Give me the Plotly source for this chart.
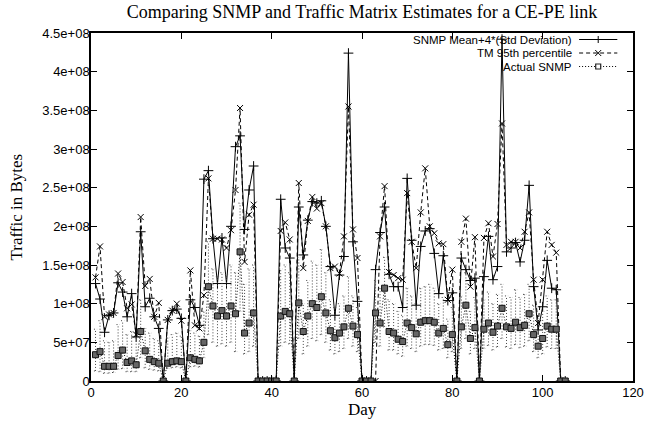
import plotly.graph_objects as go
import numpy as np

title = 'Comparing SNMP and Traffic Matrix Estimates for a CE-PE link'
names = ['SNMP Mean+4*(Std Deviation)', 'TM 95th percentile', 'Actual SNMP']

days = list(range(1, 106))

# values in units of 1e8 bytes
snmp_mean4std = [
    1.26, 1.06, 0.63, 0.85, 0.88, 1.27, 1.15, 0.83, 1.13, 0.57,
    1.93, 0.96, 1.07, 0.83, 0.68, 0, 0.79, 0.91, 0.93, 0.81,
    0, 1.05, 0.95, 0.72, 2.61, 2.72, 1.84, 1.26, 1.85, 1.26,
    2.00, 3.03, 3.17, 1.96, 2.47, 2.78, 0, 0, 0, 0,
    0, 2.35, 1.72, 1.59, 0, 2.25, 1.63, 2.08, 2.32, 2.30,
    2.33, 2.00, 1.48, 0.85, 1.37, 1.61, 4.24, 1.80, 1.03, 0,
    0, 0, 1.44, 1.92, 2.25, 1.38, 1.22, 1.22, 0.95, 2.62,
    1.82, 0.98, 1.74, 1.94, 1.97, 1.65, 1.13, 1.62, 1.04, 1.14,
    0, 1.59, 1.44, 1.30, 1.33, 0, 1.35, 1.87, 1.31, 1.48,
    4.42, 1.67, 1.72, 1.79, 1.54, 1.82, 2.53, 1.22, 0.66, 0.96,
    1.56, 1.20, 1.18, 0, 0]

tm_95th = [
    1.34, 1.74, 0.83, 0.86, 0.88, 1.39, 1.28, 0.94, 0.99, 0.60,
    2.12, 1.23, 1.32, 0.83, 1.01, 0, 0.79, 0.91, 1.00, 0.78,
    0, 1.43, 0.72, 0.68, 1.11, 2.62, 1.84, 1.84, 1.83, 1.72,
    1.95, 2.47, 3.53, 1.54, 2.15, 2.28, 0, 0, 0, 0,
    0, 1.94, 2.05, 1.83, 0, 2.56, 1.46, 2.07, 2.38, 2.23,
    2.30, 2.00, 1.46, 1.48, 1.39, 1.87, 3.55, 1.96, 1.59, 0,
    0, 0, 0, 1.87, 2.52, 1.41, 1.37, 1.33, 1.31, 2.43,
    1.80, 1.46, 2.18, 2.75, 2.00, 1.91, 1.78, 1.77, 1.05, 1.44,
    0, 1.80, 2.10, 1.22, 1.86, 0, 1.85, 2.04, 1.61, 2.03,
    3.33, 1.76, 1.80, 1.80, 1.72, 1.93, 2.18, 1.31, 0.75, 1.31,
    1.93, 1.76, 1.66, 0, 0]

actual_snmp = [
    0.34, 0.38, 0.19, 0.19, 0.19, 0.33, 0.40, 0.24, 0.26, 0.21,
    0.64, 0.39, 0.28, 0.25, 0.23, 0, 0.23, 0.25, 0.26, 0.25,
    0, 0.30, 0.28, 0.26, 0.50, 1.22, 0.97, 0.84, 0.91, 0.84,
    0.97, 0.87, 1.67, 0.62, 0.75, 0.88, 0, 0, 0, 0,
    0, 0.84, 0.90, 0.87, 0, 1.01, 0.64, 0.84, 1.00, 0.95,
    1.09, 0.88, 0.65, 0.56, 0.62, 0.70, 0.94, 0.71, 0.60, 0,
    0, 0, 0.88, 0.75, 1.20, 0.64, 0.62, 0.54, 0.51, 0.75,
    0.69, 0.61, 0.76, 0.78, 0.78, 0.76, 0.62, 0.68, 0.47, 0.60,
    0, 0.70, 0.98, 0.55, 0.69, 0, 0.67, 0.75, 0.63, 0.71,
    0.94, 0.70, 0.68, 0.76, 0.69, 0.72, 0.87, 0.60, 0.45, 0.55,
    0.71, 0.67, 0.67, 0, 0]

actual_low = [
    0.13, 0.12, 0.10, 0.10, 0.11, 0.15, 0.16, 0.12, 0.12, 0.12,
    0.30, 0.17, 0.15, 0.14, 0.13, 0, 0.16, 0.17, 0.18, 0.17,
    0, 0.18, 0.19, 0.18, 0.30, 0.60, 0.50, 0.45, 0.48, 0.45,
    0.50, 0.38, 0.90, 0.35, 0.38, 0.45, 0, 0, 0, 0,
    0, 0.45, 0.50, 0.48, 0, 0.55, 0.35, 0.45, 0.55, 0.52,
    0.60, 0.50, 0.40, 0.35, 0.38, 0.42, 0.55, 0.45, 0.38, 0,
    0, 0, 0.50, 0.45, 0.70, 0.40, 0.40, 0.35, 0.32, 0.45,
    0.42, 0.38, 0.45, 0.47, 0.47, 0.46, 0.40, 0.42, 0.30, 0.38,
    0, 0.42, 0.55, 0.35, 0.42, 0, 0.42, 0.46, 0.40, 0.44,
    0.55, 0.44, 0.42, 0.47, 0.43, 0.45, 0.52, 0.38, 0.30, 0.35,
    0.44, 0.42, 0.42, 0, 0]

actual_high = [
    0.67, 0.78, 0.52, 0.50, 0.52, 0.73, 0.78, 0.60, 0.64, 0.56,
    1.05, 0.68, 0.62, 0.55, 0.52, 0, 0.56, 0.60, 0.62, 0.58,
    0, 0.65, 0.62, 0.58, 0.90, 1.80, 1.45, 1.35, 1.40, 1.38,
    1.50, 1.40, 2.30, 1.25, 1.45, 1.50, 0, 0, 0, 0,
    0, 1.45, 1.50, 1.40, 0, 1.60, 1.00, 1.30, 1.55, 1.50,
    1.70, 1.40, 1.05, 0.95, 1.00, 1.10, 1.35, 1.10, 0.95, 0,
    0, 0, 1.30, 1.20, 1.60, 1.05, 1.00, 0.90, 0.85, 1.20,
    1.10, 1.00, 1.20, 1.22, 1.25, 1.20, 1.00, 1.08, 0.80, 0.95,
    0, 1.10, 1.40, 0.90, 1.08, 0, 1.05, 1.15, 1.00, 1.12,
    1.25, 1.10, 1.08, 1.18, 1.08, 1.12, 1.25, 0.98, 0.80, 0.90,
    1.10, 1.05, 1.05, 0, 0]

x_ticks = [0, 20, 40, 60, 80, 100, 120]
y_ticks = [0, 5e7, 1e8, 1.5e8, 2e8, 2.5e8, 3e8, 3.5e8, 4e8, 4.5e8]
y_ticktext = ['0', '5e+07', '1e+08', '1.5e+08', '2e+08', '2.5e+08',
              '3e+08', '3.5e+08', '4e+08', '4.5e+08']

scale = 1e8
snmp = np.array(snmp_mean4std) * scale
tm = np.array(tm_95th) * scale
act = np.array(actual_snmp) * scale
lo = np.array(actual_low) * scale
hi = np.array(actual_high) * scale

sans = 'Liberation Sans, Arial, sans-serif'
serif = 'Liberation Serif, Times New Roman, serif'
cap = 0.35

# dotted error bars (vertical + small caps) for the actual SNMP series
bx, by = [], []
for d, l, h in zip(days, lo, hi):
    if h <= 0:
        continue
    bx += [d, d, None, d - cap, d + cap, None, d - cap, d + cap, None]
    by += [l, h, None, l, l, None, h, h, None]

fig = go.Figure()
fig.add_trace(go.Scatter(x=days, y=snmp, mode='lines+markers', name=names[0],
                         line=dict(color='black', width=1),
                         marker=dict(symbol='cross-thin-open', size=7,
                                     line=dict(color='black', width=1))))
fig.add_trace(go.Scatter(x=days, y=tm, mode='lines+markers', name=names[1],
                         line=dict(color='black', width=1, dash='4px,3px'),
                         marker=dict(symbol='x-thin-open', size=6,
                                     line=dict(color='black', width=1))))
fig.add_trace(go.Scatter(x=bx, y=by, mode='lines', hoverinfo='skip',
                         line=dict(color='#444', width=1, dash='1px,2px')))
fig.add_trace(go.Scatter(x=days, y=act, mode='lines+markers', name=names[2],
                         line=dict(color='black', width=1, dash='1px,2px'),
                         marker=dict(symbol='square', size=6, color='#666',
                                     line=dict(color='#111', width=1))))

axis_common = dict(showline=True, linecolor='black', linewidth=1.5,
                   mirror='ticks', ticks='inside', ticklen=6,
                   tickcolor='black', showgrid=False, zeroline=False,
                   tickfont=dict(family=sans, size=13, color='black'))

fig.update_layout(
    width=654, height=424, autosize=False,
    margin=dict(l=91, r=10, t=33, b=43),
    paper_bgcolor='white', plot_bgcolor='white',
    showlegend=False,
    title=dict(text=title, x=0.5, xref='paper', xanchor='center',
               y=1 - 12 / 424, yref='container', yanchor='middle',
               font=dict(family=serif, size=18, color='black')),
    xaxis=dict(range=[0, 120], tickvals=x_ticks, ticklabelstandoff=-1,
               **axis_common),
    yaxis=dict(range=[0, 4.5e8], tickvals=y_ticks, ticktext=y_ticktext,
               ticklabelstandoff=-3, **axis_common),
)

# pixel -> paper helpers for the plot area (91..644 x 33..381)
px = lambda v: (v - 91) / 553
py = lambda v: (381 - v) / 348

fig.add_annotation(x=px(368), y=py(409), xref='paper', yref='paper',
                   text='Day', showarrow=False, xanchor='center',
                   yanchor='middle',
                   font=dict(family=serif, size=17, color='black'))
fig.add_annotation(x=px(14), y=py(207), xref='paper', yref='paper',
                   text='Traffic in Bytes', showarrow=False, textangle=-90,
                   xanchor='center', yanchor='middle',
                   font=dict(family=serif, size=17, color='black'))

# legend drawn gnuplot style: text right-aligned, sample to its right
rows = [39.5, 53.0, 66.5]
dashes = ['solid', '4px,3px', '1px,2px']
for i, (nm, r) in enumerate(zip(names, rows)):
    fig.add_annotation(x=px(583), y=py(r), xref='paper', yref='paper',
                       text=nm, showarrow=False, xanchor='right',
                       yanchor='middle', borderpad=0,
                       font=dict(family=sans, size=11.5, color='black'))
    fig.add_shape(type='line', xref='paper', yref='paper',
                  x0=px(589), x1=px(628), y0=py(r), y1=py(r),
                  line=dict(color='black', width=1, dash=dashes[i]))
    xc, yc = px(608.5), py(r)
    if i == 0:
        fig.add_shape(type='line', xref='paper', yref='paper',
                      xsizemode='pixel', ysizemode='pixel',
                      xanchor=xc, yanchor=yc, x0=0, x1=0, y0=-3.5, y1=3.5,
                      line=dict(color='black', width=1))
    elif i == 1:
        for s in (1, -1):
            fig.add_shape(type='line', xref='paper', yref='paper',
                          xsizemode='pixel', ysizemode='pixel',
                          xanchor=xc, yanchor=yc, x0=-3, x1=3,
                          y0=-3 * s, y1=3 * s,
                          line=dict(color='black', width=1))
    else:
        fig.add_shape(type='rect', xref='paper', yref='paper',
                      xsizemode='pixel', ysizemode='pixel',
                      xanchor=xc, yanchor=yc, x0=-2.5, x1=2.5,
                      y0=-2.5, y1=2.5, fillcolor='white',
                      line=dict(color='#222', width=1.2))

# drop the default 8px page margin so the figure fills the window
fig.write_html('out.html', config={'displayModeBar': False},
               post_script="document.body.style.margin='0';")
